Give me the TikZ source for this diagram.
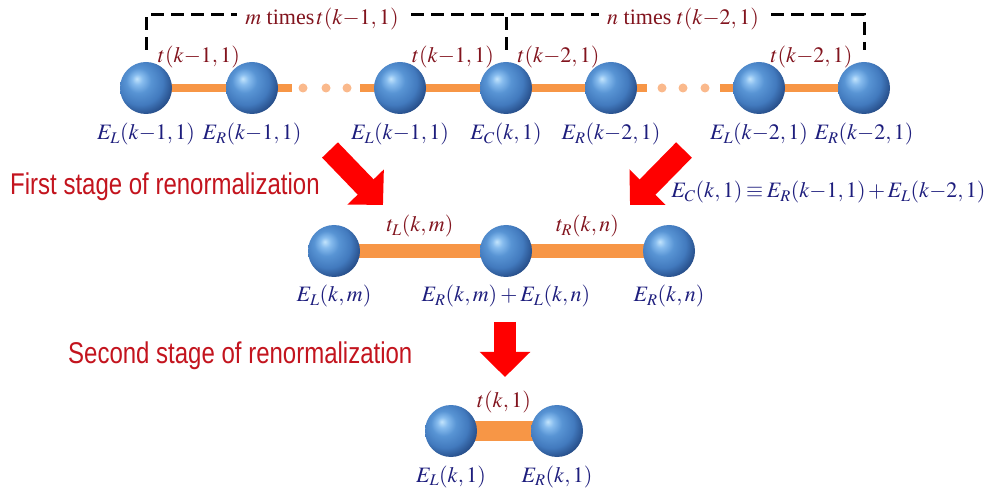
\documentclass[tikz,border=0pt]{standalone}
\usepackage{mathptmx}
\usepackage{fontspec}
\setmainfont{Liberation Serif}
\newfontfamily\stagefont[FakeStretch=0.8]{Liberation Sans}
\usetikzlibrary{arrows.meta,backgrounds,calc}
\definecolor{ballblue}{RGB}{75,135,205}
\definecolor{bondorange}{RGB}{247,150,70}
\definecolor{dotorange}{RGB}{250,185,140}
\definecolor{hopred}{RGB}{130,20,30}
\definecolor{energyblue}{RGB}{30,30,125}
\definecolor{stagered}{RGB}{195,20,30}
\pgfdeclareradialshading{sphere}{\pgfpoint{-9bp}{9bp}}{%
  color(0bp)=(rgb,255:red,195;green,228;blue,252);
  color(5bp)=(rgb,255:red,135;green,188;blue,238);
  color(12bp)=(rgb,255:red,88;green,148;blue,212);
  color(22bp)=(rgb,255:red,66;green,122;blue,190);
  color(30bp)=(rgb,255:red,40;green,80;blue,140);
  color(38bp)=(rgb,255:red,15;green,30;blue,60);
  color(60bp)=(rgb,255:red,15;green,30;blue,60)}

\tikzset{
  ball/.style={circle, minimum size=52pt, inner sep=0pt, shade, shading=sphere},
  bond/.style={draw=bondorange, line width=#1},
  bond/.default=8pt,
  hop/.style={text=hopred, font=\fontsize{22}{26}\selectfont, anchor=base},
  energy/.style={text=energyblue, font=\fontsize{22}{26}\selectfont, anchor=base},
  stage/.style={text=stagered, font=\stagefont\fontsize{30}{36}\selectfont, anchor=base west, inner sep=0pt},
  bracket/.style={draw=black, line width=3pt, dash pattern=on 13pt off 7pt},
  bigarrow/.style={draw=red, line width=22pt, -{Triangle[width=49pt,length=25pt]}}
}

\begin{document}
\begin{tikzpicture}[x=1pt,y=-1pt]
\useasboundingbox (0,0) rectangle (991,494);

% top chain
\foreach \x [count=\i] in {146,252,400,506,611,759,864}
  \node[ball] (s\i) at (\x,88) {};
\foreach \i/\txt in {1/{$E_L(k{-}1,1)$},2/{$E_R(k{-}1,1)$},3/{$E_L(k{-}1,1)$},4/{$E_C(k,1)$},5/{$E_R(k{-}2,1)$},6/{$E_L(k{-}2,1)$},7/{$E_R(k{-}2,1)$}}
  \node[energy] (e\i) at ($(s\i)+(0,52)$) {\txt};
\node[hop] (t12) at ($(s1)!.5!(s2)+(0,-25)$) {$t(k{-}1,1)$};
\node[hop] (t34) at ($(s3)!.5!(s4)+(0,-25)$) {$t(k{-}1,1)$};
\node[hop] (t45) at ($(s4)!.5!(s5)+(0,-25)$) {$t(k{-}2,1)$};
\node[hop] (t67) at ($(s6)!.5!(s7)+(0,-25)$) {$t(k{-}2,1)$};

\coordinate (gapA) at (292,88);
\coordinate (gapB) at (360,88);
\coordinate (gapC) at (647,88);
\coordinate (gapD) at (720,88);
\foreach \x in {303,326,347,662,683,705}
  \fill[dotorange] (\x,88) circle (4.5);

% bracket
\draw[bracket] ([yshift=12pt]s1.north) -- ++(0,-35) -| ([yshift=12pt]s7.north);
\draw[bracket] ([yshift=12pt]s4.north) -- ++(0,-35);
\node[hop, fill=white, inner xsep=8pt, inner ysep=4pt] (mtimes) at (322,25) {$m$ times$\,t(k{-}1,1)$};
\node[hop, fill=white, inner xsep=8pt, inner ysep=4pt] (ntimes) at (683,25) {$n$ times $t(k{-}2,1)$};

% first stage
\coordinate (arrAs) at (330,150);
\coordinate (arrAe) at (383,205);
\coordinate (arrBs) at (684,150);
\coordinate (arrBe) at (630,205);
\draw[bigarrow] (arrAs) -- (arrAe);
\draw[bigarrow] (arrBs) -- (arrBe);
\node[stage] (stageA) at (10,195) {First stage of renormalization};
\node[energy, anchor=base east] (ecdef) at (989,198)
  {$\thickmuskip=3mu \medmuskip=2mu E_C(k,1)\equiv E_R(k{-}1,1)+E_L(k{-}2,1)$};

\node[ball] (m1) at (334,251) {};
\node[ball] (m2) at (506,251) {};
\node[ball] (m3) at (669,251) {};
\node[hop] (tL) at ($(m1)!.5!(m2)+(0,-19)$) {$t_L(k,m)$};
\node[hop] (tR) at ($(m2)!.5!(m3)+(0,-19)$) {$t_R(k,n)$};
\node[energy] (eL) at ($(m1)+(0,51)$) {$E_L(k,m)$};
\node[energy] (eM) at ($(m2)+(0,51)$) {$E_R(k,m)+E_L(k,n)$};
\node[energy] (eR) at ($(m3)+(0,51)$) {$E_R(k,n)$};

% second stage
\coordinate (arrCs) at (505,322);
\coordinate (arrCe) at (505,377);
\draw[bigarrow] (arrCs) -- (arrCe);
\node[stage] (stageB) at (68,363) {Second stage of renormalization};

\node[ball] (b1) at (451,431) {};
\node[ball] (b2) at (557,431) {};
\node[hop] (tk) at ($(b1)!.5!(b2)+(0,-24)$) {$t(k,1)$};
\node[energy] (ebL) at ($(b1)+(0,51)$) {$E_L(k,1)$};
\node[energy] (ebR) at ($(b2)+(0,51)$) {$E_R(k,1)$};

\begin{scope}[on background layer]
\draw[bond] (s1.center) -- (s2.center);
\draw[bond] (s2.center) -- (gapA);
\draw[bond] (gapB) -- (s3.center);
\draw[bond] (s3.center) -- (s4.center);
\draw[bond] (s4.center) -- (s5.center);
\draw[bond] (s5.center) -- (gapC);
\draw[bond] (gapD) -- (s6.center);
\draw[bond] (s6.center) -- (s7.center);
\draw[bond=14pt] (m1.center) -- (m2.center) -- (m3.center);
\draw[bond=20pt] (b1.center) -- (b2.center);
\end{scope}
\end{tikzpicture}
\end{document}
